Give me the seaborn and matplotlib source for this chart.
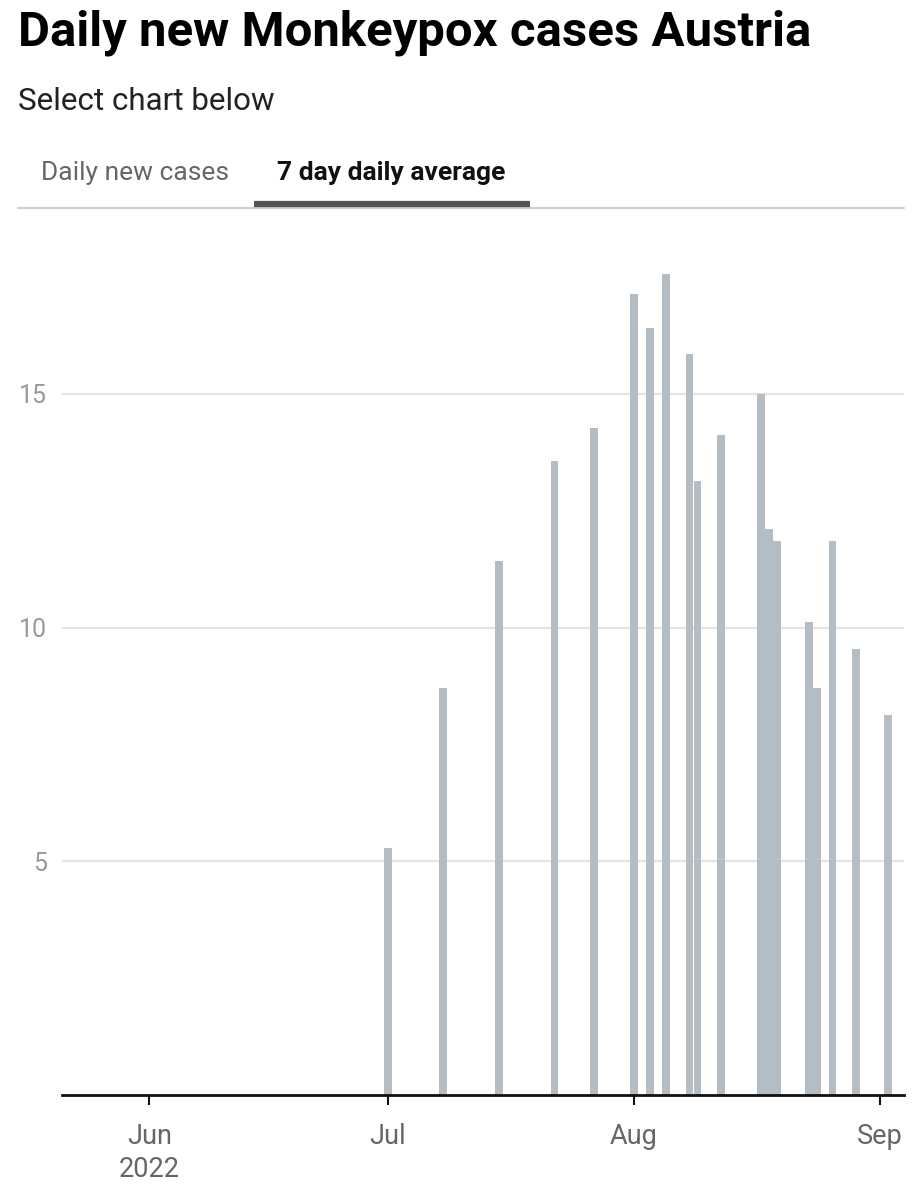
import numpy as np
import pandas as pd
import matplotlib
matplotlib.use("Agg")
import matplotlib.pyplot as plt
import matplotlib.dates as mdates
from matplotlib.lines import Line2D
import seaborn as sns

# 7 day daily average values
dates = ["2022-07-01", "2022-07-08", "2022-07-15", "2022-07-22", "2022-07-27",
         "2022-08-01", "2022-08-03", "2022-08-05", "2022-08-08", "2022-08-09",
         "2022-08-12", "2022-08-17", "2022-08-18", "2022-08-19", "2022-08-23",
         "2022-08-24", "2022-08-26", "2022-08-29", "2022-09-02"]
avg_cases = [5.28, 8.70, 11.42, 13.56, 14.28,
             17.13, 16.42, 17.56, 15.85, 13.14,
             14.13, 15.00, 12.12, 11.85, 10.13,
             8.71, 11.85, 9.55, 8.13]

x_ticks = ["2022-06-01", "2022-07-01", "2022-08-01", "2022-09-01"]
x_tick_labels = ["Jun\n2022", "Jul", "Aug", "Sep"]
y_ticks = [5, 10, 15]
x_range = ["2022-05-21", "2022-09-04"]

bar_color = "#b5bdc4"

sns.set_theme(style="white")
plt.rcParams["font.family"] = ["Roboto", "DejaVu Sans"]

df = pd.DataFrame({"date": pd.to_datetime(dates), "avg": avg_cases})
df["num"] = mdates.date2num(df["date"])

fig = plt.figure(figsize=(9.22, 12), dpi=100)
ax = fig.add_axes([62 / 922, 105 / 1200, 842 / 922, 845 / 1200])

sns.barplot(data=df, x="num", y="avg", native_scale=True, width=1.0,
            color=bar_color, saturation=1, errorbar=None, linewidth=0, ax=ax)

ax.set_xlim(mdates.date2num(pd.to_datetime(x_range)))
ax.set_ylim(0, 18.08)
ax.set_xticks(mdates.date2num(pd.to_datetime(x_ticks)))
ax.set_xticklabels(x_tick_labels)
ax.set_yticks(y_ticks)
ax.set_xlabel("")
ax.set_ylabel("")

ax.grid(axis="y", color="#e3e3e3", linewidth=1.5)
ax.set_axisbelow(True)
for s in ["left", "top", "right"]:
    ax.spines[s].set_visible(False)
ax.spines["bottom"].set_color("#111111")
ax.spines["bottom"].set_linewidth(2)

ax.tick_params(axis="y", length=0, pad=11, labelsize=18, labelcolor="#9a9a9a")
ax.tick_params(axis="x", bottom=True, length=7, width=1.5, color="#111111",
               pad=13, labelsize=19.5, labelcolor="#666666")
for lbl in ax.get_xticklabels():
    lbl.set_linespacing(1.3)

# header texts
fig.text(18 / 922, 1 - 45 / 1200, "Daily new Monkeypox cases Austria",
         fontsize=35.4, fontweight="bold", color="#000000", va="baseline")
fig.text(18 / 922, 1 - 110 / 1200, "Select chart below",
         fontsize=22.6, color="#222222", va="baseline")
fig.text(41 / 922, 1 - 180 / 1200, "Daily new cases",
         fontsize=19, color="#666666", va="baseline")
fig.text(277 / 922, 1 - 180 / 1200, "7 day daily average",
         fontsize=19, fontweight="bold", color="#111111", va="baseline")

# tab underline
fig.add_artist(Line2D([18 / 922, 904 / 922], [1 - 208 / 1200] * 2,
                      color="#cccccc", linewidth=1.5))
fig.add_artist(Line2D([254 / 922, 530 / 922], [1 - 204 / 1200] * 2,
                      color="#555555", linewidth=4.5, solid_capstyle="butt"))

fig.savefig("out.png", dpi=100)
